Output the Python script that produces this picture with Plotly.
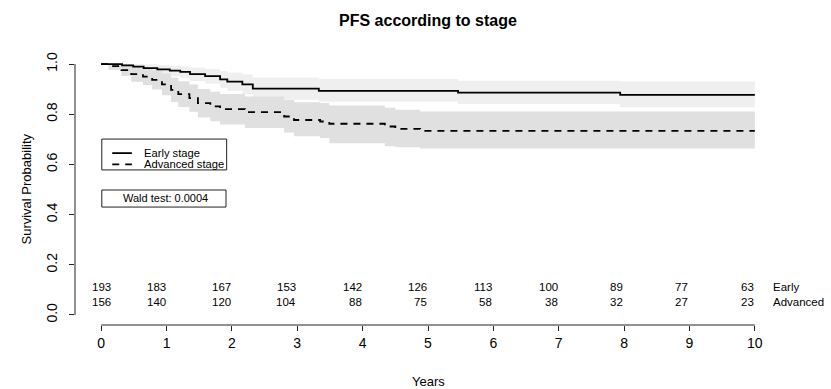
import plotly.graph_objects as go

# ---- data ----
early_t = [0, 0.32, 0.49, 0.65, 0.86, 1.05, 1.21, 1.36, 1.59, 1.82, 1.93, 2.16, 2.32, 3.33, 5.46, 7.94, 10]
early_s = [1.0, 0.995, 0.990, 0.984, 0.979, 0.974, 0.969, 0.960, 0.952, 0.939, 0.930, 0.919, 0.902, 0.893, 0.886, 0.877, 0.877]
early_lo = [1.0, 0.985, 0.976, 0.966, 0.959, 0.951, 0.944, 0.932, 0.921, 0.905, 0.894, 0.880, 0.858, 0.850, 0.841, 0.828, 0.828]
early_up = [1.0, 1.0, 1.0, 0.999, 0.996, 0.993, 0.990, 0.985, 0.980, 0.972, 0.966, 0.958, 0.946, 0.940, 0.933, 0.930, 0.930]

adv_t = [0, 0.11, 0.31, 0.46, 0.64, 0.78, 0.93, 1.07, 1.18, 1.35, 1.48, 1.67, 1.82, 2.20, 2.80, 2.95, 3.35, 3.49, 4.34, 4.50, 4.88, 10]
adv_s = [1.0, 0.992, 0.976, 0.960, 0.950, 0.937, 0.919, 0.897, 0.880, 0.864, 0.844, 0.831, 0.820, 0.808, 0.791, 0.777, 0.771, 0.762, 0.751, 0.742, 0.734, 0.734]
adv_lo = [1.0, 0.977, 0.952, 0.929, 0.916, 0.899, 0.876, 0.849, 0.829, 0.810, 0.787, 0.772, 0.759, 0.745, 0.727, 0.712, 0.705, 0.684, 0.672, 0.668, 0.663, 0.663]
adv_up = [1.0, 1.0, 1.0, 0.991, 0.984, 0.975, 0.962, 0.945, 0.931, 0.918, 0.901, 0.890, 0.881, 0.871, 0.857, 0.848, 0.845, 0.835, 0.826, 0.818, 0.811, 0.811]

risk_times = [0, 1, 2, 3, 4, 5, 6, 7, 8, 9, 10]
risk_early = [193, 183, 167, 153, 142, 126, 113, 100, 89, 77, 63]
risk_adv = [156, 140, 120, 104, 88, 75, 58, 38, 32, 27, 23]

x_ticks = [0, 1, 2, 3, 4, 5, 6, 7, 8, 9, 10]
y_ticks = [0.0, 0.2, 0.4, 0.6, 0.8, 1.0]

title = "PFS according to stage"
group_names = ["Early stage", "Advanced stage"]
risk_labels = ["Early", "Advanced"]
wald_text = "Wald test: 0.0004"

FONT = "Liberation Sans, Arial, Helvetica, sans-serif"

fig = go.Figure()

def band(t, lo, up, color):
    fig.add_trace(go.Scatter(x=t, y=lo, mode="lines", line=dict(width=0, shape="hv"),
                             hoverinfo="skip", showlegend=False))
    fig.add_trace(go.Scatter(x=t, y=up, mode="lines", line=dict(width=0, shape="hv"),
                             fill="tonexty", fillcolor=color, hoverinfo="skip", showlegend=False))

band(early_t, early_lo, early_up, "#efefef")
band(adv_t, adv_lo, adv_up, "#e0e0e0")

fig.add_trace(go.Scatter(x=early_t, y=early_s, mode="lines",
                         line=dict(color="black", width=1.8, shape="hv"), showlegend=False))
fig.add_trace(go.Scatter(x=adv_t, y=adv_s, mode="lines",
                         line=dict(color="black", width=1.8, shape="hv", dash="7px,6px"), showlegend=False))

shapes = []
# R-style axis lines spanning the tick range only
shapes.append(dict(type="line", xref="x", yref="paper", x0=x_ticks[0], x1=x_ticks[-1], y0=0, y1=0,
                   line=dict(color="#222", width=1)))
shapes.append(dict(type="line", xref="paper", yref="y", x0=0, x1=0, y0=y_ticks[0], y1=y_ticks[-1],
                   line=dict(color="#222", width=1)))
# legend box
shapes.append(dict(type="rect", xref="x", yref="y", x0=0.01, x1=1.92, y0=0.578, y1=0.701,
                   line=dict(color="#222", width=1), fillcolor="white"))
shapes.append(dict(type="line", xref="x", yref="y", x0=0.17, x1=0.47, y0=0.645, y1=0.645,
                   line=dict(color="black", width=1.8)))
shapes.append(dict(type="line", xref="x", yref="y", x0=0.17, x1=0.47, y0=0.600, y1=0.600,
                   line=dict(color="black", width=1.8, dash="7px,6px")))
# Wald box
shapes.append(dict(type="rect", xref="x", yref="y", x0=0.01, x1=1.91, y0=0.430, y1=0.498,
                   line=dict(color="#222", width=1), fillcolor="white"))

ann = []
ann.append(dict(x=0.62, y=0.645, xref="x", yref="y", text=group_names[0], showarrow=False,
                xanchor="left", yanchor="middle", font=dict(size=11.2, color="black", family=FONT)))
ann.append(dict(x=0.62, y=0.600, xref="x", yref="y", text=group_names[1], showarrow=False,
                xanchor="left", yanchor="middle", font=dict(size=11.2, color="black", family=FONT)))
ann.append(dict(x=0.99, y=0.466, xref="x", yref="y", text=wald_text, showarrow=False,
                xanchor="center", yanchor="middle", font=dict(size=11, color="black", family=FONT)))

RISK_FS = 11.5
y_row1 = 0.1096
y_row2 = 0.0498
for i, tt in enumerate(risk_times):
    anchor = "center" if i == 0 else "right"
    ann.append(dict(x=tt, y=y_row1, xref="x", yref="y", text=str(risk_early[i]), showarrow=False,
                    xanchor=anchor, yanchor="middle", borderpad=0,
                    font=dict(size=RISK_FS, color="black", family=FONT)))
    ann.append(dict(x=tt, y=y_row2, xref="x", yref="y", text=str(risk_adv[i]), showarrow=False,
                    xanchor=anchor, yanchor="middle", borderpad=0,
                    font=dict(size=RISK_FS, color="black", family=FONT)))
ann.append(dict(x=10.26, y=y_row1, xref="x", yref="y", text=risk_labels[0], showarrow=False,
                xanchor="left", yanchor="middle", borderpad=0,
                font=dict(size=RISK_FS, color="black", family=FONT)))
ann.append(dict(x=10.26, y=y_row2, xref="x", yref="y", text=risk_labels[1], showarrow=False,
                xanchor="left", yanchor="middle", borderpad=0,
                font=dict(size=RISK_FS, color="black", family=FONT)))

# axis titles
ann.append(dict(x=0.5, y=-0.21, xref="paper", yref="paper", text="Years", showarrow=False,
                xanchor="center", yanchor="middle", font=dict(size=13, color="black", family=FONT)))
ann.append(dict(x=-0.0694, y=0.5, xref="paper", yref="y", text="Survival Probability", showarrow=False,
                textangle=-90, xanchor="center", yanchor="middle",
                font=dict(size=13, color="black", family=FONT)))

fig.update_layout(
    width=831, height=389,
    margin=dict(l=75, r=50, t=54, b=64),
    paper_bgcolor="white", plot_bgcolor="white",
    title=dict(text="<b>" + title + "</b>", x=0.515, xanchor="center", y=1 - 20 / 389, yanchor="middle",
               font=dict(size=16, color="black", family=FONT)),
    shapes=shapes, annotations=ann, showlegend=False,
    xaxis=dict(range=[-0.4, 10.4], tickvals=x_ticks, ticktext=[str(v) for v in x_ticks],
               showgrid=False, zeroline=False, showline=False, ticks="outside", ticklen=5,
               tickcolor="#222", tickfont=dict(size=14, color="black", family=FONT)),
    yaxis=dict(range=[-0.04, 1.04], tickvals=y_ticks, ticktext=["%.1f" % v for v in y_ticks],
               showgrid=False, zeroline=False, showline=False, ticks="outside", ticklen=5,
               tickcolor="#222", tickangle=-90, ticklabelstandoff=6,
               tickfont=dict(size=14, color="black", family=FONT)),
)

fig.write_html("out.html")
